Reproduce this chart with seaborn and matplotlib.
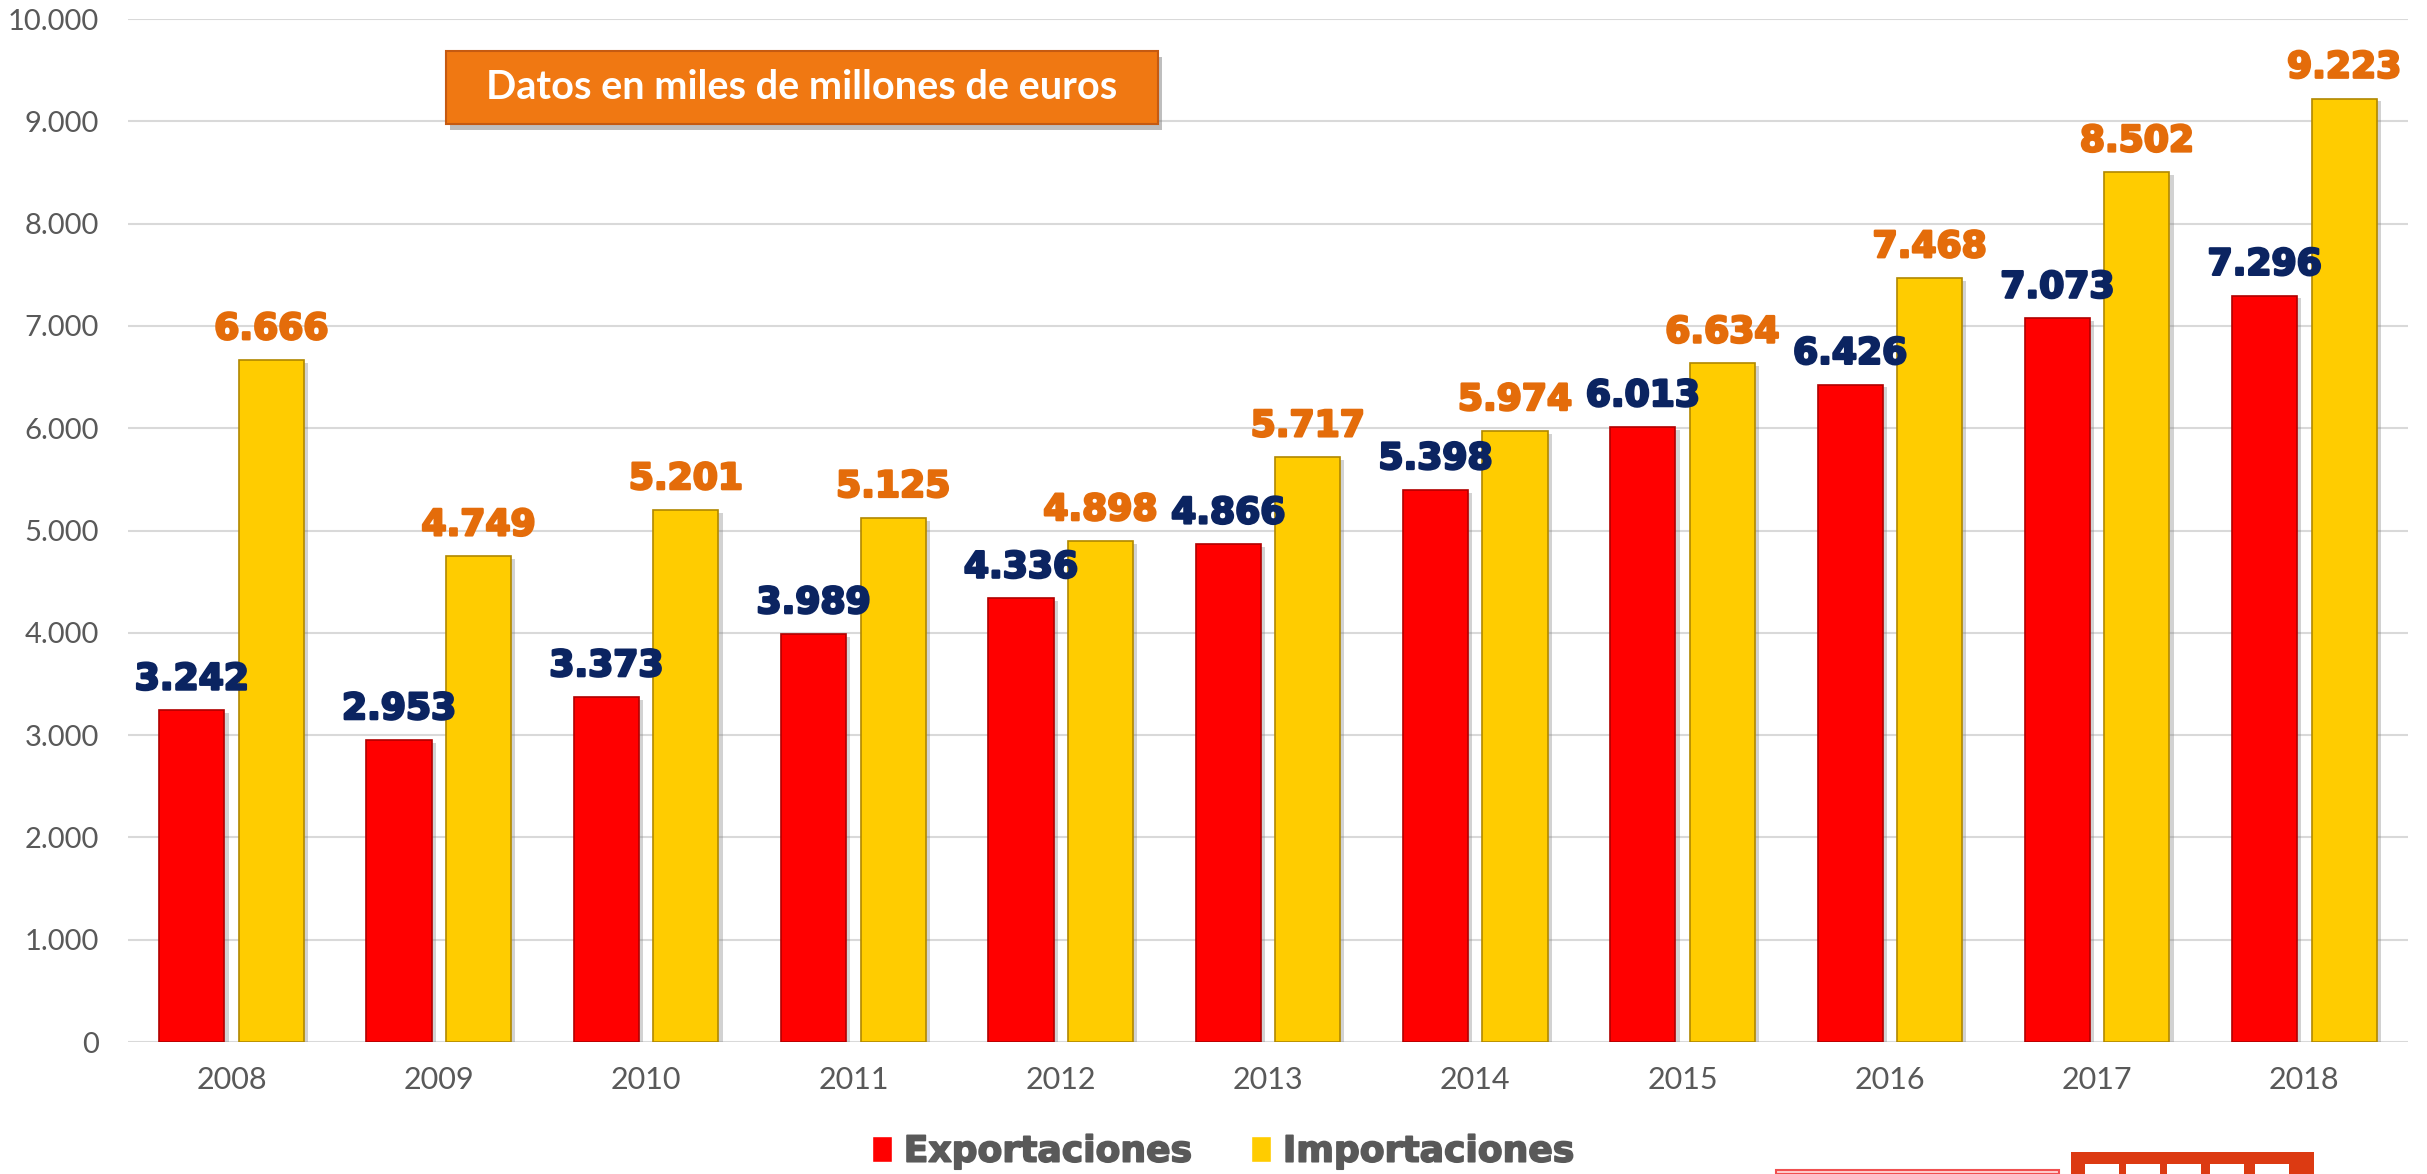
import pandas as pd
import matplotlib
matplotlib.use("Agg")
import matplotlib.pyplot as plt
import matplotlib.patheffects as pe
from matplotlib.patches import Rectangle
from matplotlib.ticker import FuncFormatter
import seaborn as sns

# Data (miles de millones de euros)
years = ["2008", "2009", "2010", "2011", "2012", "2013", "2014", "2015", "2016", "2017", "2018"]
exportaciones = [3242, 2953, 3373, 3989, 4336, 4866, 5398, 6013, 6426, 7073, 7296]
importaciones = [6666, 4749, 5201, 5125, 4898, 5717, 5974, 6634, 7468, 8502, 9223]
series_names = ["Exportaciones", "Importaciones"]
y_ticks = [0, 1000, 2000, 3000, 4000, 5000, 6000, 7000, 8000, 9000, 10000]

df = pd.DataFrame({
    "Año": years * 2,
    "Valor": exportaciones + importaciones,
    "Serie": [series_names[0]] * len(years) + [series_names[1]] * len(years),
})

def miles(v, pos=None):
    return f"{int(v):,}".replace(",", ".")

sns.set_style("white")
plt.rcParams['font.family'] = ['Lato', 'DejaVu Sans']

fig = plt.figure(figsize=(24.27, 11.74), dpi=100)
ax = fig.add_axes([0.0527, 0.1124, 0.9395, 0.8714])

colors = {"Exportaciones": "#ff0000", "Importaciones": "#ffcc00"}
edges = ["#b00000", "#b08800"]
sns.barplot(data=df, x="Año", y="Valor", hue="Serie", hue_order=series_names,
            palette=colors, width=0.767, gap=0.18, saturation=1, ax=ax)

shadow = [pe.withSimplePatchShadow(offset=(3, -2), shadow_rgbFace="#808080", alpha=0.35)]
for cont, ec in zip(ax.containers, edges):
    for p in cont:
        p.set_edgecolor(ec)
        p.set_linewidth(1.2)
        p.set_path_effects(shadow)

# data labels (heavy, Arial Black look)
label_colors = ["#0b2461", "#e46c0a"]
for cont, vals, c in zip(ax.containers, [exportaciones, importaciones], label_colors):
    texts = ax.bar_label(cont, labels=[miles(v) for v in vals], padding=10, color=c,
                         fontsize=26, fontweight="bold", family="DejaVu Sans")
    for t in texts:
        t.set_path_effects([pe.withStroke(linewidth=1.8, foreground=c)])

ax.set_ylim(0, 10000)
ax.set_xlim(-0.5, 10.5)
ax.set_yticks(y_ticks)
ax.yaxis.set_major_formatter(FuncFormatter(miles))
ax.grid(axis="y", color="#d9d9d9", linewidth=1.5)
ax.set_axisbelow(True)
for s in ax.spines.values():
    s.set_visible(False)
ax.tick_params(axis="both", length=0, colors="#595959")
ax.tick_params(axis="y", labelsize=21, pad=21)
ax.tick_params(axis="x", labelsize=22, pad=17)
ax.set_xlabel("")
ax.set_ylabel("")

# legend at bottom
handles, labels = ax.get_legend_handles_labels()
ax.legend_.remove()
leg = fig.legend(handles, labels, loc="center", bbox_to_anchor=(0.504, 0.019), ncol=2,
                 frameon=False, handlelength=0.55, handleheight=0.7, handletextpad=0.33,
                 columnspacing=1.63, prop={"family": "DejaVu Sans", "weight": "bold", "size": 26})
for t in leg.get_texts():
    t.set_color("#595959")
    t.set_path_effects([pe.withStroke(linewidth=1.2, foreground="#595959")])

# title box
box = Rectangle((0.1838, 0.8944), 0.2934, 0.0622, transform=fig.transFigure,
                facecolor="#f07812", edgecolor="#c55a11", linewidth=1.5, zorder=5,
                path_effects=[pe.withSimplePatchShadow(offset=(3, -4), shadow_rgbFace="#7f7f7f", alpha=0.5)])
fig.patches.append(box)
fig.text(0.3305, 0.9255, "Datos en miles de millones de euros", color="white",
         fontsize=28.5, fontweight="bold", ha="center", va="center", zorder=6)

# cropped logo at bottom right
fig.patches.append(Rectangle((2071 / 2427, 0), 243 / 2427, 22 / 1174, transform=fig.transFigure,
                             facecolor="#dc3a12", edgecolor="none"))
for x0 in [2085, 2126, 2167, 2210, 2255]:
    fig.patches.append(Rectangle((x0 / 2427, 0), 34 / 2427, 10 / 1174, transform=fig.transFigure,
                                 facecolor="white", edgecolor="none"))
fig.patches.append(Rectangle((1776 / 2427, 0), 283 / 2427, 4 / 1174, transform=fig.transFigure,
                             facecolor="#ffd0d0", edgecolor="#f05050", linewidth=1.5))

plt.savefig("out.png", dpi=100)
